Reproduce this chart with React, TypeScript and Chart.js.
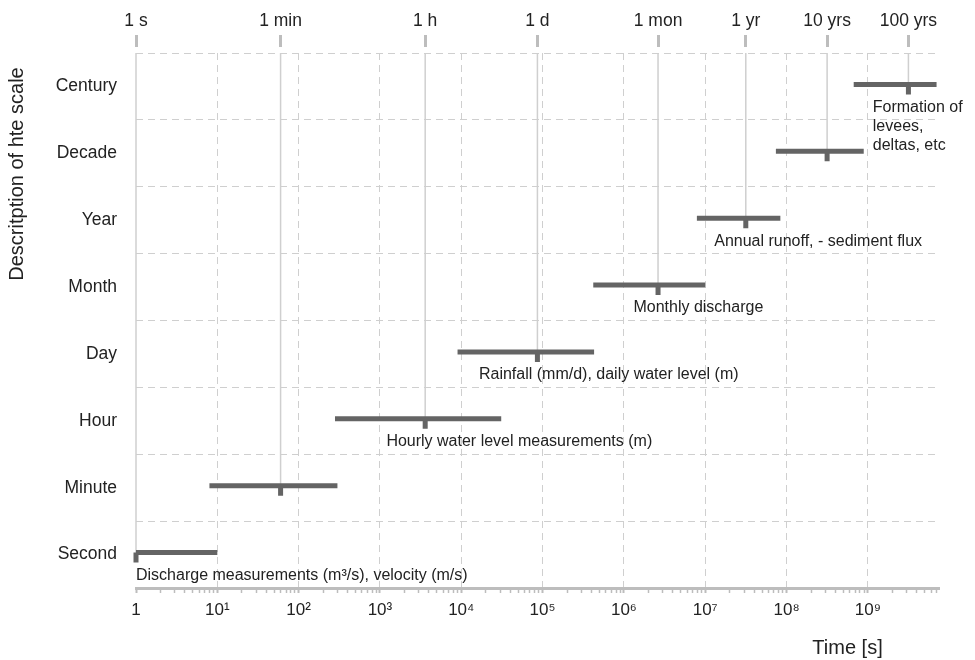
import React, { useEffect, useRef } from 'react';
import { Chart, registerables } from 'chart.js';

Chart.register(...registerables);

// ---------- data ----------
const rowNames = ['Second', 'Minute', 'Hour', 'Day', 'Month', 'Year', 'Decade', 'Century'];
const rangeStart = [1, 8, 280, 9000, 420000, 7.9e6, 7.4e7, 6.7e8];
const rangeEnd = [10, 300, 31000, 430000, 1.0e7, 8.4e7, 8.9e8, 7.0e9];
const unitSeconds = [1, 60, 3600, 86400, 2629800, 31557600, 315576000, 3155760000];
const unitLabels = ['1 s', '1 min', '1 h', '1 d', '1 mon', '1 yr', '10 yrs', '100 yrs'];
const noteLines: string[][] = [
  ['Discharge measurements (m³/s), velocity (m/s)'],
  [],
  ['Hourly water level measurements (m)'],
  ['Rainfall (mm/d), daily water level (m)'],
  ['Monthly discharge'],
  ['Annual runoff, - sediment flux'],
  [],
  ['Formation of', 'levees,', 'deltas, etc'],
];
const noteStart: (number | null)[] = [1, null, 1200, 16500, 1.31e6, 1.29e7, null, 1.15e9];
const decadeLabels = ['1', '10¹', '10²', '10³', '10⁴', '10⁵', '10⁶', '10⁷', '10⁸', '10⁹'];
const X_MIN = 1;
const X_MAX = 7.5e9;
const Y_TITLE = 'Descritption of hte scale';
const X_TITLE = 'Time [s]';

// ---------- style ----------
const FONT = '"Liberation Sans", Arial, Helvetica, sans-serif';
const BAR_COLOR = '#646464';
const GRID_COLOR = '#cfcfcf';
const AXIS_COLOR = '#bdbdbd';
const TEXT_COLOR = '#222222';
const BAR_LIFT = 0.03;
const MARKER_DROP = 0.12;
const DASH = [7, 5];

function isDecade(v: number) {
  const e = Math.round(Math.log10(v));
  return Math.abs(v - Math.pow(10, e)) < 1e-6 * v;
}

const annotatePlugin = {
  id: 'annotate',
  afterDraw(chart: any) {
    const { ctx, chartArea } = chart;
    const x = chart.scales.x;
    const y = chart.scales.y;
    ctx.save();
    ctx.fillStyle = TEXT_COLOR;
    ctx.font = `16px ${FONT}`;
    ctx.textAlign = 'left';
    ctx.textBaseline = 'middle';
    noteLines.forEach((lines, i) => {
      const sx = noteStart[i];
      if (sx == null) return;
      const px = x.getPixelForValue(sx);
      const py = y.getPixelForValue(i);
      lines.forEach((t, k) => ctx.fillText(t, px, py + 21 + k * 19));
    });
    ctx.font = `20px ${FONT}`;
    ctx.textAlign = 'center';
    ctx.fillText(X_TITLE, chartArea.right - 91.5, chartArea.bottom + 60);
    ctx.translate(9.5, chartArea.top + 121);
    ctx.rotate(-Math.PI / 2);
    ctx.fillText(Y_TITLE, 0, 0);
    ctx.restore();
  },
};

export default function App() {
  const canvasRef = useRef<HTMLCanvasElement | null>(null);

  useEffect(() => {
    if (!canvasRef.current) return;
    const datasets: any[] = [];
    rowNames.forEach((_, i) => {
      datasets.push({
        data: [
          { x: rangeStart[i], y: i + BAR_LIFT },
          { x: rangeEnd[i], y: i + BAR_LIFT },
        ],
        borderColor: BAR_COLOR,
        borderWidth: 5,
        borderCapStyle: 'butt',
        pointRadius: 0,
        clip: false,
        order: 0,
      });
      datasets.push({
        data: [
          { x: unitSeconds[i], y: i + BAR_LIFT },
          { x: unitSeconds[i], y: i - MARKER_DROP },
        ],
        borderColor: BAR_COLOR,
        borderWidth: 5,
        borderCapStyle: 'butt',
        pointRadius: 0,
        clip: false,
        order: 0,
      });
      datasets.push({
        data: [
          { x: unitSeconds[i], y: rowNames.length - 0.5 },
          { x: unitSeconds[i], y: i },
        ],
        borderColor: GRID_COLOR,
        borderWidth: 1.5,
        pointRadius: 0,
        clip: false,
        order: 2,
      });
    });

    const bottomTicks: number[] = [];
    for (let e = 0; e <= 9; e++) {
      for (let m = 1; m <= 9; m++) {
        const v = m * Math.pow(10, e);
        if (v <= X_MAX) bottomTicks.push(v);
      }
    }

    const chart = new Chart(canvasRef.current, {
      type: 'line',
      data: { datasets },
      plugins: [annotatePlugin],
      options: {
        animation: false,
        responsive: true,
        maintainAspectRatio: false,
        layout: { padding: { left: 0, right: 28, top: 0, bottom: 0 } },
        plugins: { legend: { display: false }, tooltip: { enabled: false }, title: { display: false } },
        scales: {
          x: {
            type: 'logarithmic',
            position: 'bottom',
            min: X_MIN,
            max: X_MAX,
            afterBuildTicks: (scale: any) => {
              scale.ticks = bottomTicks.map((v) => ({ value: v, major: isDecade(v) }));
            },
            afterFit: (scale: any) => {
              scale.height = 72;
              scale.paddingLeft = 0;
              scale.paddingRight = 0;
            },
            ticks: {
              autoSkip: false,
              maxRotation: 0,
              minRotation: 0,
              padding: 7,
              color: TEXT_COLOR,
              font: { size: 17, family: FONT },
              callback: (value: any) => {
                const v = Number(value);
                if (!isDecade(v)) return '';
                return decadeLabels[Math.round(Math.log10(v))];
              },
            },
            grid: {
              drawOnChartArea: true,
              drawTicks: true,
              tickLength: 5,
              lineWidth: 1,
              color: (ctx: any) => {
                const v = ctx.tick ? ctx.tick.value : 0;
                return isDecade(v) && v > 1 ? GRID_COLOR : 'rgba(0,0,0,0)';
              },
              tickColor: AXIS_COLOR,
              tickWidth: (ctx: any) => (ctx.tick && isDecade(ctx.tick.value) ? 2 : 1.5),
            },
            border: { display: true, color: AXIS_COLOR, width: 3, dash: DASH },
          },
          x2: {
            type: 'logarithmic',
            position: 'top',
            min: X_MIN,
            max: X_MAX,
            afterBuildTicks: (scale: any) => {
              scale.ticks = unitSeconds.map((v) => ({ value: v }));
            },
            afterFit: (scale: any) => {
              scale.height = 45;
              scale.paddingLeft = 0;
              scale.paddingRight = 0;
            },
            ticks: {
              autoSkip: false,
              maxRotation: 0,
              minRotation: 0,
              padding: 3,
              color: TEXT_COLOR,
              font: { size: 17.5, family: FONT },
              callback: (_v: any, index: number) => unitLabels[index],
            },
            grid: {
              drawOnChartArea: false,
              drawTicks: true,
              tickLength: 18,
              tickWidth: 3,
              tickColor: AXIS_COLOR,
              tickBorderDash: [12, 20],
            },
            border: { display: false },
          },
          y: {
            type: 'linear',
            min: -0.5,
            max: rowNames.length - 0.5,
            afterBuildTicks: (scale: any) => {
              scale.ticks = rowNames.map((_, i) => ({ value: i }));
            },
            afterFit: (scale: any) => {
              scale.width = 128;
              scale.paddingTop = 0;
              scale.paddingBottom = 0;
            },
            ticks: {
              autoSkip: false,
              padding: 19,
              color: TEXT_COLOR,
              font: { size: 17.5, family: FONT },
              callback: (value: any) => rowNames[Math.round(Number(value))] ?? '',
            },
            grid: {
              offset: true,
              drawTicks: false,
              color: GRID_COLOR,
              lineWidth: 1,
            },
            border: { display: false, dash: DASH },
          },
        },
      } as any,
    });
    return () => chart.destroy();
  }, []);

  return (
    <div style={{ width: 959, height: 652, position: 'relative' }}>
      <canvas ref={canvasRef} />
    </div>
  );
}
